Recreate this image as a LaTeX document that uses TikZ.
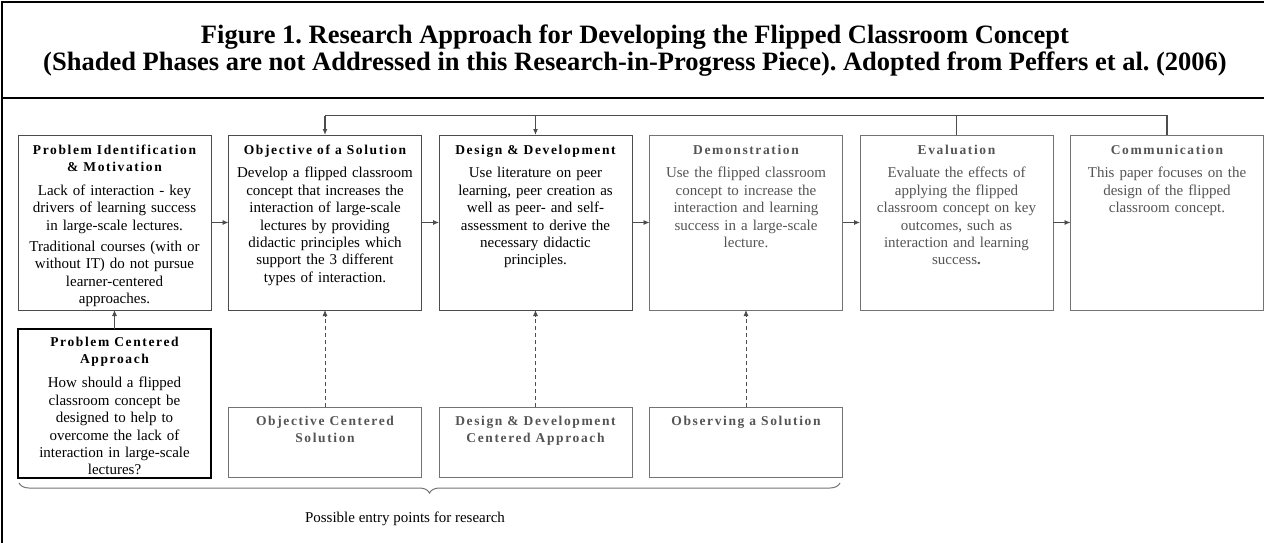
\documentclass[tikz,border=0pt]{standalone}
\usepackage{fontspec}
\setmainfont{Liberation Serif}
\newfontfamily\headfont[LetterSpace=12]{Liberation Serif}
\usetikzlibrary{positioning,arrows.meta,decorations.pathreplacing}
\frenchspacing

\definecolor{rim}{gray}{0.3}
\definecolor{rimlight}{gray}{0.45}
\definecolor{shaded}{gray}{0.33}

\newcommand\bodyfont{\fontsize{15}{17.4}\selectfont}
\newcommand\phasehead[1]{{\headfont\bfseries\fontsize{13.5}{17.4}\selectfont #1}\\[6.5pt]}

\tikzset{
  frame/.style={line width=2.5pt},
  phase/.style={draw=rim, line width=0.9pt, outer sep=0pt, inner xsep=5pt, inner ysep=0pt,
    text width=183pt, align=center, font=\bodyfont, text height=19pt, text depth=156pt},
  pending/.style={phase, draw=rimlight, text=shaded},
  entrybox/.style={pending, text height=18.5pt, text depth=51.5pt},
  flow/.style={->, draw=rim, line width=0.8pt},
  feedback/.style={draw=rim, line width=1.2pt}
}

\begin{document}
\begin{tikzpicture}[x=1pt, y=-1pt, >={Latex[length=6pt,width=5pt]}]
  \useasboundingbox (0,0) rectangle (1264,543);
  \clip (0,0) rectangle (1264,543);

  % outer frame and caption
  \draw[frame] (2,2) rectangle (1290,570);
  \draw[frame] (2,98) -- (1290,98);
  \node[align=center, font=\fontsize{26.5}{26.7}\selectfont\bfseries] (caption) at (635,50.5)
    {Figure 1. Research Approach for Developing the Flipped Classroom Concept\\
     (Shaded Phases are not Addressed in this Research-in-Progress Piece). Adopted from Peffers et al. (2006)};

  % phases
  \node[phase, anchor=north west] (pim) at (18,135) {\phasehead{Problem Identification\\\& Motivation}
    Lack of interaction - key\\drivers of learning success\\in large-scale lectures.\\[4pt]
    Traditional courses (with or\\without IT) do not pursue\\learner-centered\\approaches.};
  \node[phase, right=17.5pt of pim] (obj) {\phasehead{Objective of a Solution}
    Develop a flipped classroom\\concept that increases the\\interaction of large-scale\\lectures by providing\\
    didactic principles which\\support the 3 different\\types of interaction.};
  \node[phase, right=17.5pt of obj] (des) {\phasehead{Design \& Development}
    Use literature on peer\\learning, peer creation as\\well as peer- and self-\\assessment to derive the\\
    necessary didactic\\principles.};
  \node[pending, right=17.5pt of des] (dem) {\phasehead{Demonstration}
    Use the flipped classroom\\concept to increase the\\interaction and learning\\success in a large-scale\\lecture.};
  \node[pending, right=17.5pt of dem] (eva) {\phasehead{Evaluation}
    Evaluate the effects of\\applying the flipped\\classroom concept on key\\outcomes, such as\\
    interaction and learning\\success\textbf{.}};
  \node[pending, right=17.5pt of eva] (com) {\phasehead{Communication}
    This paper focuses on the\\design of the flipped\\classroom concept.};

  % entry points
  \node[phase, draw=black, line width=1.3pt, text height=17.5pt, text depth=131.5pt, below=19pt of pim] (pca)
    {\phasehead{Problem Centered\\Approach}
    How should a flipped\\classroom concept be\\designed to help to\\overcome the lack of\\
    interaction in large-scale\\lectures?};
  \node[entrybox, below=97pt of obj] (ocs) {\phasehead{Objective Centered\\Solution}};
  \node[entrybox, below=97pt of des] (dcs) {\phasehead{Design \& Development\\Centered Approach}};
  \node[entrybox, below=97pt of dem] (obs) {\phasehead{Observing a Solution}};

  % process flow
  \foreach \a/\b in {pim/obj, obj/des, des/dem, dem/eva, eva/com}
    \draw[flow] (\a) -- (\b);
  \draw[flow] (pca) -- (pim);
  \foreach \a/\b in {ocs/obj, dcs/des, obs/dem}
    \draw[flow, dash pattern=on 4pt off 3pt] (\a) -- (\b);

  % iteration back to objective and design
  \coordinate (fb) at (0,115.5);
  \draw[feedback] (com.north) -- (com.north |- fb) -- (obj.north |- fb);
  \draw[feedback] (eva.north) -- (eva.north |- fb);
  \draw[feedback, ->] (obj.north |- fb) -- (obj.north);
  \draw[feedback, ->] (des.north |- fb) -- (des.north);

  % brace over the entry points
  \coordinate (bl) at (19,483);
  \coordinate (br) at (840,483);
  \draw[rimlight, line width=1pt, decorate, decoration={brace, mirror, amplitude=10pt, aspect=0.5}] (bl) -- (br);
  \node[font=\bodyfont] (entry) at (405,519) {Possible entry points for research};
\end{tikzpicture}
\end{document}
